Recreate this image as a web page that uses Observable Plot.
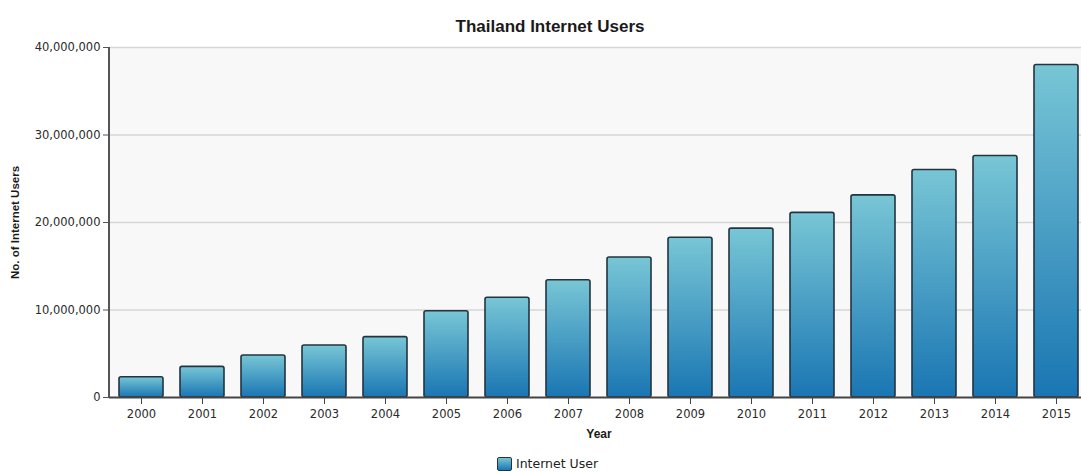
<!DOCTYPE html>
<html><head><meta charset="utf-8">
<script src="https://cdn.jsdelivr.net/npm/d3@7"></script>
<script src="https://cdn.jsdelivr.net/npm/@observablehq/plot@0.6"></script>
<style>
body{margin:0;background:#fff;width:1081px;height:473px;overflow:hidden;position:relative;}
#title{position:absolute;left:0;top:17px;width:1100px;text-align:center;font:bold 17px "Liberation Sans",Arial,sans-serif;color:#1a1a1a;}
#chart{position:absolute;left:0;top:40px;}
#legend{position:absolute;top:456px;left:497px;display:flex;align-items:center;font:12.5px "DejaVu Sans",sans-serif;color:#222}
.sw{width:13px;height:12px;border:1.5px solid #23343f;background:linear-gradient(#78c6d5,#1a76b3);margin-right:4px;border-radius:2px}
</style>
</head><body>
<div id="title">Thailand Internet Users</div>
<div id="chart"></div>
<div id="legend"><div class="sw"></div><span>Internet User</span></div>
<script>
const years = ["2000","2001","2002","2003","2004","2005","2006","2007","2008","2009","2010","2011","2012","2013","2014","2015"];
const users = [2320000,3500000,4800000,5940000,6900000,9860000,11400000,13400000,16000000,18250000,19300000,21100000,23100000,26000000,27600000,38000000];
const yTicks = [0,10000000,20000000,30000000,40000000];
const seriesName = "Internet User";

const data = years.map((y,i)=>({year:y, users:users[i]}));

const defs = () => {
  const d = d3.create("svg:defs");
  const g = d.append("linearGradient").attr("id","barGrad").attr("x1",0).attr("y1",0).attr("x2",0).attr("y2",1);
  g.append("stop").attr("offset","0%").attr("stop-color","#78c6d5");
  g.append("stop").attr("offset","100%").attr("stop-color","#1a76b3");
  return d.node();
};
const yAxisLine = (index, scales, values, dims) => {
  const g = d3.create("svg:line")
    .attr("x1", dims.marginLeft).attr("x2", dims.marginLeft)
    .attr("y1", scales.y(yTicks[yTicks.length-1])).attr("y2", scales.y(0))
    .attr("stroke","#555").attr("stroke-width",2);
  return g.node();
};

const chart = Plot.plot({
  width: 1081,
  height: 405,
  marginTop: 7,
  marginBottom: 48,
  marginLeft: 109,
  marginRight: -7,
  style: {fontFamily: "DejaVu Sans, sans-serif", fontSize: "11.5px", color: "#2a2a2a", background: "transparent", overflow: "visible"},
  x: {type: "band", domain: years, paddingInner: 0.28, paddingOuter: 0.14, label: null},
  y: {domain: [0, 40000000], label: null},
  marks: [
    defs,
    Plot.frame({fill: "#f8f8f8", stroke: null}),
    Plot.gridY(yTicks.slice(1), {stroke: "#d6d6d6", strokeWidth: 1.5, strokeOpacity: 1}),
    Plot.barY(data, {x: "year", y: "users", fill: "url(#barGrad)", stroke: "#23343f", strokeWidth: 1.6, rx: 2}),
    Plot.ruleY([0], {stroke: "#444", strokeWidth: 2}),
    yAxisLine,
    Plot.axisY({ticks: yTicks, tickFormat: d3.format(","), tickSize: 6, tickPadding: 3, stroke: "#555", label: null}),
    Plot.axisX({tickSize: 7, tickPadding: 5, stroke: "#444", label: null}),
    Plot.text(["No. of Internet Users"], {frameAnchor: "left", textAnchor: "middle", dx: -94, rotate: -90, fontWeight: "bold", fontSize: 11.5, fill: "#1a1a1a", fontFamily: "Liberation Sans, Arial, sans-serif"}),
    Plot.text(["Year"], {frameAnchor: "bottom", dy: 40, fontWeight: "bold", fontSize: 12, fill: "#1a1a1a", fontFamily: "Liberation Sans, Arial, sans-serif"})
  ]
});
document.getElementById("chart").appendChild(chart);
</script>
</body></html>
